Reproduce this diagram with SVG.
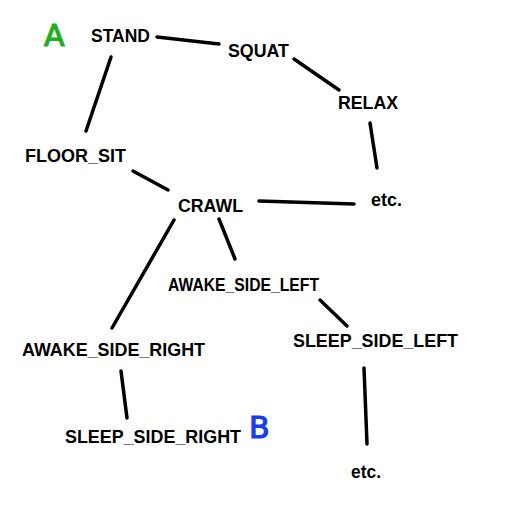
<svg xmlns="http://www.w3.org/2000/svg" width="512" height="512" viewBox="0 0 512 512">
<style>
.lbl{font-family:"Liberation Sans",Arial,sans-serif;font-weight:bold;font-size:18.5px;fill:#000}
.c line{stroke:#000;stroke-width:3.5;stroke-linecap:round}
.mark{font-family:"DejaVu Sans","Liberation Sans",sans-serif;font-size:30px;stroke-width:1.2}
</style>
<rect width="512" height="512" fill="#fff"/>
<g class="c" id="connectors">
<line x1="157" y1="37" x2="219" y2="44"/>
<line x1="294" y1="59" x2="339" y2="90"/>
<line x1="370" y1="123" x2="377" y2="168"/>
<line x1="111" y1="57" x2="86" y2="131"/>
<line x1="133" y1="171" x2="168" y2="190"/>
<line x1="259" y1="201" x2="354" y2="204"/>
<line x1="174" y1="220" x2="112" y2="328"/>
<line x1="219" y1="219" x2="235" y2="259"/>
<line x1="320" y1="300" x2="347" y2="326"/>
<line x1="121" y1="371" x2="127" y2="418"/>
<line x1="364" y1="368" x2="367" y2="444"/>
</g>
<g id="STAND"><text class="lbl" x="91" y="42" textLength="59" lengthAdjust="spacingAndGlyphs">STAND</text></g>
<g id="SQUAT"><text class="lbl" x="228" y="57" textLength="61" lengthAdjust="spacingAndGlyphs">SQUAT</text></g>
<g id="RELAX"><text class="lbl" x="338" y="109" textLength="60" lengthAdjust="spacingAndGlyphs">RELAX</text></g>
<g id="FLOOR_SIT"><text class="lbl" x="25" y="162" textLength="101" lengthAdjust="spacingAndGlyphs">FLOOR_SIT</text></g>
<g id="CRAWL"><text class="lbl" x="178" y="212" textLength="65" lengthAdjust="spacingAndGlyphs">CRAWL</text></g>
<g id="etc1"><text class="lbl" x="371" y="206" textLength="31" lengthAdjust="spacingAndGlyphs">etc.</text></g>
<g id="AWAKE_SIDE_LEFT"><text class="lbl" x="168" y="291" textLength="151" lengthAdjust="spacingAndGlyphs">AWAKE_SIDE_LEFT</text></g>
<g id="SLEEP_SIDE_LEFT"><text class="lbl" x="293" y="347" textLength="165" lengthAdjust="spacingAndGlyphs">SLEEP_SIDE_LEFT</text></g>
<g id="AWAKE_SIDE_RIGHT"><text class="lbl" x="22" y="356" textLength="183" lengthAdjust="spacingAndGlyphs">AWAKE_SIDE_RIGHT</text></g>
<g id="SLEEP_SIDE_RIGHT"><text class="lbl" x="65" y="443" textLength="176" lengthAdjust="spacingAndGlyphs">SLEEP_SIDE_RIGHT</text></g>
<g id="etc2"><text class="lbl" x="351" y="478" textLength="30" lengthAdjust="spacingAndGlyphs">etc.</text></g>
<g id="markA"><text class="mark" x="44" y="46" fill="#1eae1e" stroke="#1eae1e">A</text></g>
<g id="markB"><text class="mark" x="249" y="438" fill="#1a3cf0" stroke="#1a3cf0" font-size="26">B</text></g>
</svg>
